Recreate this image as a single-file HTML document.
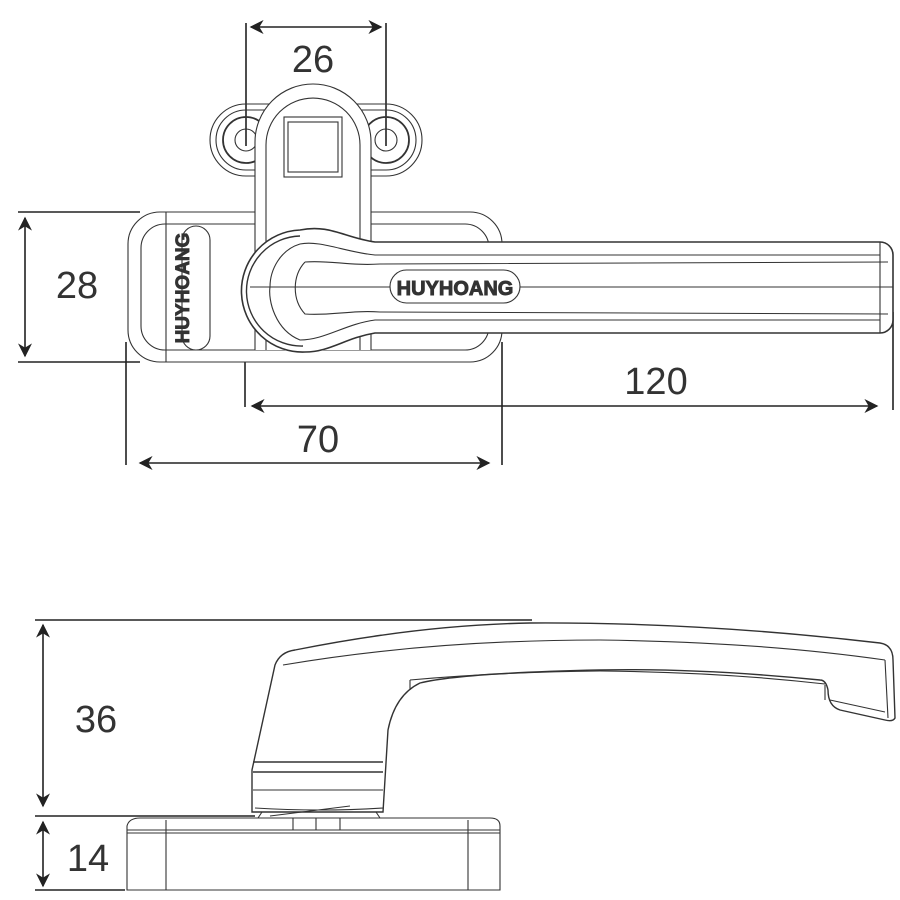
<!DOCTYPE html>
<html><head><meta charset="utf-8"><style>
html,body{margin:0;padding:0;background:#fff;}
svg{display:block}
text{font-family:"Liberation Sans",sans-serif;fill:#333}
</style></head><body>
<svg width="900" height="900" viewBox="0 0 900 900" xmlns="http://www.w3.org/2000/svg">
<defs>
<marker id="a" viewBox="0 0 10 10" refX="9" refY="5" markerWidth="14" markerHeight="14" markerUnits="userSpaceOnUse" orient="auto-start-reverse"><path d="M0,0 L10,5 L0,10 L3,5z" fill="#222"/></marker>
</defs>
<g fill="none" stroke="#222" stroke-width="1.6">
<line x1="246" y1="23" x2="246" y2="146"/><line x1="386" y1="23" x2="386" y2="146"/>
<line x1="251" y1="27" x2="381" y2="27" marker-start="url(#a)" marker-end="url(#a)"/>
<line x1="18" y1="212" x2="140" y2="212"/><line x1="18" y1="362" x2="140" y2="362"/>
<line x1="25" y1="218" x2="25" y2="356" marker-start="url(#a)" marker-end="url(#a)"/>
<line x1="245" y1="310" x2="245" y2="407"/><line x1="893" y1="312" x2="893" y2="410"/>
<line x1="252" y1="406" x2="877" y2="406" marker-start="url(#a)" marker-end="url(#a)"/>
<line x1="126" y1="342" x2="126" y2="465"/><line x1="502" y1="342" x2="502" y2="465"/>
<line x1="140" y1="463" x2="489" y2="463" marker-start="url(#a)" marker-end="url(#a)"/>
<line x1="35" y1="620" x2="532" y2="620"/>
<line x1="35" y1="816" x2="255" y2="816"/>
<line x1="35" y1="890" x2="125" y2="890"/>
<line x1="43" y1="625" x2="43" y2="806" marker-start="url(#a)" marker-end="url(#a)"/>
<line x1="43" y1="822" x2="43" y2="886" marker-start="url(#a)" marker-end="url(#a)"/>
</g>
<g fill="none" stroke="#333" stroke-width="1.1">
<path d="M246,104 L386,104 A36,36 0 0 1 386,176 L246,176 A36,36 0 0 1 246,104Z"/>
<path d="M246,110 L386,110 A30,30 0 0 1 386,170 L246,170 A30,30 0 0 1 246,110Z"/>
<circle cx="246" cy="140" r="23" stroke-width="1.8"/><circle cx="246" cy="140" r="11"/>
<circle cx="386" cy="140" r="23" stroke-width="1.8"/><circle cx="386" cy="140" r="11"/>
<path d="M160,212 L470,212 A32,32 0 0 1 502,244 L502,330 A32,32 0 0 1 470,362 L160,362 A32,32 0 0 1 128,330 L128,244 A32,32 0 0 1 160,212Z" fill="#fff"/>
<path d="M165,224 L465,224 A24,24 0 0 1 489,248 L489,326 A24,24 0 0 1 465,350 L165,350 A24,24 0 0 1 141,326 L141,248 A24,24 0 0 1 165,224Z"/>
<line x1="166" y1="212" x2="166" y2="362"/>
<rect x="182" y="226" width="28" height="124" rx="14"/>
<path d="M255,350 L255,142 A58,58 0 0 1 371,142 L371,350" fill="#fff"/>
<path d="M266,350 L266,145 A47,47 0 0 1 360,145 L360,350"/>
<rect x="284" y="117" width="58" height="60"/><rect x="288" y="122" width="50" height="50"/>
<path d="M300,230 C330,224 345,238 375,242 L880,242 A13,13 0 0 1 893,255 L893,320 A13,13 0 0 1 880,333 L375,333 C345,338 330,352 305,352 A61,61 0 0 1 300,230Z" fill="#fff" stroke-width="1.6"/>
<path d="M300,236 A55,55 0 0 0 303,346" stroke-width="1.4"/>
<path d="M300,244 C320,240 345,252 375,255 L880,255 M880,320 L375,320 C345,324 325,340 300,340 C275,330 268,300 270,287 C270,270 280,250 300,244"/>
<path d="M305,262 C330,260 350,266 380,264 L888,262 M888,314 L380,312 C350,310 330,316 305,314 C292,300 292,276 305,262"/>
<line x1="250" y1="287" x2="893" y2="287"/>
<line x1="880" y1="242" x2="880" y2="333"/>
<rect x="390" y="270" width="130" height="33" rx="16.5" fill="#fff"/>
<path d="M127,890 L127,826 Q129,818 140,818 L490,818 Q500,818 500,826 L500,890 Z" fill="#fff"/>
<line x1="127" y1="833" x2="500" y2="833"/>
<line x1="127" y1="830" x2="500" y2="830"/>
<line x1="166" y1="820" x2="166" y2="890"/><line x1="468" y1="820" x2="468" y2="890"/>
<path d="M293,818 L293,830 M316,818 L316,830 M340,818 L340,830"/>
<path d="M252,812 L252,770 L275,665 Q280,652 295,650 Q420,625 530,623 Q700,622 880,643 Q893,645 893,660 L895,718 Q893,722 885,720 L840,710 Q828,706 828,690 Q826,680 820,680 Q700,668 600,670 Q460,673 420,683 Q395,695 388,730 L383,812 Z" fill="#fff" stroke-width="1.4"/>
<path d="M283,665 Q430,640 600,640 Q760,642 885,660"/>
<path d="M410,680 L410,690 M825,685 L825,700"/>
<path d="M410,680 Q500,672 600,671 Q720,672 825,684"/>
<path d="M885,660 L888,718 M830,700 L885,712"/>
<line x1="253" y1="762" x2="383" y2="762" stroke-width="1.4"/>
<line x1="253" y1="772" x2="383" y2="772" stroke-width="1.6"/>
<line x1="253" y1="790" x2="383" y2="790"/>
<path d="M255,808 Q320,812 383,808"/>
<path d="M262,812 L258,818 M376,812 L380,818 M270,816 L350,806"/>
</g>
<text x="313" y="72" font-size="38" text-anchor="middle">26</text>
<text x="77" y="298" font-size="38" text-anchor="middle">28</text>
<text x="656" y="394" font-size="38" text-anchor="middle">120</text>
<text x="318" y="452" font-size="38" text-anchor="middle">70</text>
<text x="96" y="732" font-size="38" text-anchor="middle">36</text>
<text x="88" y="871" font-size="38" text-anchor="middle">14</text>
<text x="455" y="295" font-size="20" text-anchor="middle" fill="#fff" stroke="#333" stroke-width="0.9" font-weight="bold">HUYHOANG</text>
<text x="0" y="0" font-size="19" text-anchor="middle" fill="#fff" stroke="#333" stroke-width="0.9" font-weight="bold" transform="translate(189,288) rotate(-90)">HUYHOANG</text>
</svg>
</body></html>
